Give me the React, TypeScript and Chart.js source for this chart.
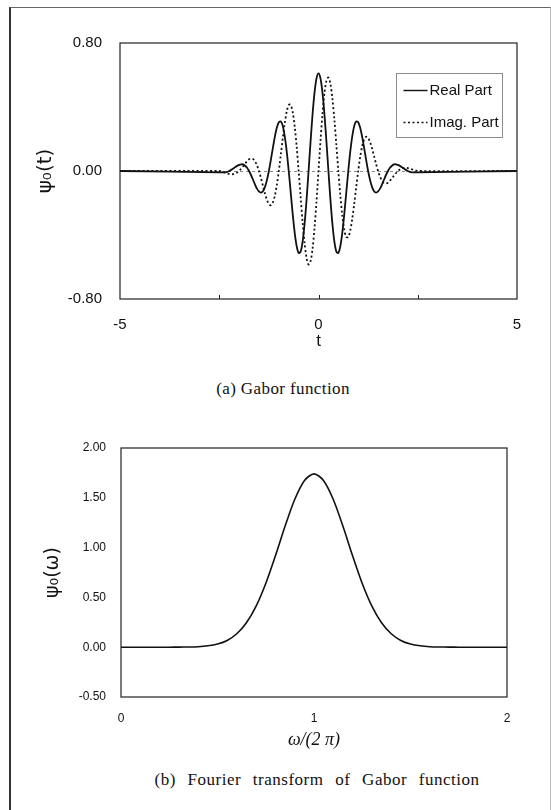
import React, { useEffect, useRef } from "react";
import { Chart, registerables } from "chart.js";

Chart.register(...registerables);

// ---------- (a) Gabor function ----------
const timeT = [
  -5,
  -2.5, -2.45, -2.4, -2.35, -2.3, -2.25, -2.2, -2.15, -2.1, -2.05,
  -2.0, -1.95, -1.9, -1.85, -1.8, -1.75, -1.7, -1.65, -1.6, -1.55,
  -1.5, -1.45, -1.4, -1.35, -1.3, -1.25, -1.2, -1.15, -1.1, -1.05,
  -1.0, -0.95, -0.9, -0.85, -0.8, -0.75, -0.7, -0.65, -0.6, -0.55,
  -0.5, -0.45, -0.4, -0.35, -0.3, -0.25, -0.2, -0.15, -0.1, -0.05,
  0,
  0.05, 0.1, 0.15, 0.2, 0.25, 0.3, 0.35, 0.4, 0.45, 0.5,
  0.55, 0.6, 0.65, 0.7, 0.75, 0.8, 0.85, 0.9, 0.95, 1.0,
  1.05, 1.1, 1.15, 1.2, 1.25, 1.3, 1.35, 1.4, 1.45, 1.5,
  1.55, 1.6, 1.65, 1.7, 1.75, 1.8, 1.85, 1.9, 1.95, 2.0,
  2.05, 2.1, 2.15, 2.2, 2.25, 2.3, 2.35, 2.4, 2.45, 2.5,
  5,
];

const realPart = [
  0,
  -0.008, -0.009, -0.009, -0.008, -0.005, 0.000, 0.007, 0.015, 0.023, 0.032,
  0.038, 0.042, 0.041, 0.033, 0.020, 0.000, -0.025, -0.054, -0.084, -0.110,
  -0.128, -0.135, -0.127, -0.101, -0.058, 0.000, 0.070, 0.143, 0.213, 0.270,
  0.305, 0.310, 0.282, 0.217, 0.121, 0.000, -0.134, -0.268, -0.385, -0.470,
  -0.513, -0.504, -0.442, -0.329, -0.177, 0.000, 0.183, 0.353, 0.490, 0.579,
  0.610,
  0.579, 0.490, 0.353, 0.183, 0.000, -0.177, -0.329, -0.442, -0.504, -0.513,
  -0.470, -0.385, -0.268, -0.134, 0.000, 0.121, 0.217, 0.282, 0.310, 0.305,
  0.270, 0.213, 0.143, 0.070, 0.000, -0.058, -0.101, -0.127, -0.135, -0.128,
  -0.110, -0.084, -0.054, -0.025, 0.000, 0.020, 0.033, 0.041, 0.042, 0.038,
  0.032, 0.023, 0.015, 0.007, 0.000, -0.005, -0.008, -0.009, -0.009, -0.008,
  0,
];

const imagPart = [
  0,
  0.000, -0.003, -0.007, -0.011, -0.015, -0.018, -0.020, -0.020, -0.017, -0.010,
  0.000, 0.014, 0.029, 0.046, 0.061, 0.073, 0.078, 0.075, 0.061, 0.036,
  0.000, -0.044, -0.092, -0.140, -0.180, -0.207, -0.214, -0.197, -0.155, -0.088,
  0.000, 0.101, 0.205, 0.299, 0.372, 0.413, 0.413, 0.368, 0.279, 0.153,
  0.000, -0.164, -0.321, -0.453, -0.545, -0.584, -0.564, -0.486, -0.356, -0.188,
  0.000,
  0.188, 0.356, 0.486, 0.564, 0.584, 0.545, 0.453, 0.321, 0.164, 0.000,
  -0.153, -0.279, -0.368, -0.413, -0.413, -0.372, -0.299, -0.205, -0.101, 0.000,
  0.088, 0.155, 0.197, 0.214, 0.207, 0.180, 0.140, 0.092, 0.044, 0.000,
  -0.036, -0.061, -0.075, -0.078, -0.073, -0.061, -0.046, -0.029, -0.014, 0.000,
  0.010, 0.017, 0.020, 0.020, 0.018, 0.015, 0.011, 0.007, 0.003, 0.000,
  0,
];

const timeTickLabels = [-5, 0, 5];
const timeInnerTicks = [-2.5, 0, 2.5];
const gaborYTicks = [-0.8, 0, 0.8];

// ---------- (b) Fourier transform ----------
const freqF = [
  0, 0.05, 0.1, 0.15, 0.2, 0.25, 0.3, 0.35, 0.4, 0.45,
  0.5, 0.55, 0.6, 0.65, 0.7, 0.75, 0.8, 0.85, 0.9, 0.95,
  1.0,
  1.05, 1.1, 1.15, 1.2, 1.25, 1.3, 1.35, 1.4, 1.45, 1.5,
  1.55, 1.6, 1.65, 1.7, 1.75, 1.8, 1.85, 1.9, 1.95, 2.0,
];

const spectrum = [
  0, 0, 0, 0, 0, 0.000, 0.001, 0.002, 0.005, 0.014,
  0.032, 0.068, 0.135, 0.245, 0.412, 0.640, 0.918, 1.214, 1.483, 1.672,
  1.740,
  1.672, 1.483, 1.214, 0.918, 0.640, 0.412, 0.245, 0.135, 0.068, 0.032,
  0.014, 0.005, 0.002, 0.001, 0.000, 0, 0, 0, 0, 0,
];

const freqTickLabels = [0, 1, 2];
const spectrumYTicks = [-0.5, 0, 0.5, 1.0, 1.5, 2.0];

const SANS = "'Liberation Sans', Arial, 'DejaVu Sans', sans-serif";
const SERIF = "'Liberation Serif', 'Times New Roman', serif";

const framePlugin = {
  id: "frame",
  beforeDatasetsDraw(chart: any, _args: any, opts: any) {
    const { ctx, chartArea: a, scales } = chart;
    if (opts.zeroLine) {
      const y = Math.round(scales.y.getPixelForValue(0)) + 0.5;
      ctx.save();
      ctx.strokeStyle = "#8a8a8a";
      ctx.lineWidth = 1;
      ctx.setLineDash([3, 3]);
      ctx.beginPath();
      ctx.moveTo(a.left, y);
      ctx.lineTo(a.right, y);
      ctx.stroke();
      ctx.restore();
    }
  },
  afterDatasetsDraw(chart: any, _args: any, opts: any) {
    const { ctx, chartArea: a, scales } = chart;
    ctx.save();
    ctx.strokeStyle = "#222";
    ctx.lineWidth = 1.2;
    ctx.setLineDash([]);
    ctx.strokeRect(a.left, a.top, a.right - a.left, a.bottom - a.top);
    if (opts.innerTicks) {
      ctx.lineWidth = 1;
      for (const v of opts.innerTicks) {
        const x = Math.round(scales.x.getPixelForValue(v)) + 0.5;
        ctx.beginPath();
        ctx.moveTo(x, a.bottom);
        ctx.lineTo(x, a.bottom - 4);
        ctx.stroke();
      }
    }
    const lg = opts.legend;
    if (lg) {
      const x0 = Math.round(a.left + lg.dx) + 0.5;
      const y0 = Math.round(a.top + lg.dy) + 0.5;
      ctx.fillStyle = "#fff";
      ctx.fillRect(x0, y0, lg.w, lg.h);
      ctx.strokeStyle = "#8c8c8c";
      ctx.lineWidth = 1;
      ctx.strokeRect(x0, y0, lg.w, lg.h);
      chart.data.datasets.forEach((ds: any, i: number) => {
        const y = y0 + lg.rows[i];
        ctx.strokeStyle = ds.borderColor;
        ctx.lineWidth = 1.4;
        ctx.setLineDash(ds.borderDash || []);
        ctx.beginPath();
        ctx.moveTo(x0 + lg.sample[0], y);
        ctx.lineTo(x0 + lg.sample[1], y);
        ctx.stroke();
        ctx.setLineDash([]);
        ctx.fillStyle = "#111";
        ctx.font = `15px ${SANS}`;
        ctx.textBaseline = "middle";
        ctx.textAlign = "left";
        ctx.fillText(ds.label, x0 + lg.textX, y);
      });
    }
    ctx.restore();
  },
};

function setTicks(list: number[]) {
  return (scale: any) => {
    scale.ticks = list.map((v) => ({ value: v }));
  };
}

function GaborChart() {
  const ref = useRef<HTMLCanvasElement>(null);
  useEffect(() => {
    const chart = new Chart(ref.current as HTMLCanvasElement, {
      type: "line",
      data: {
        datasets: [
          {
            label: "Real Part",
            data: timeT.map((t, i) => ({ x: t, y: realPart[i] })),
            borderColor: "#111",
            borderWidth: 1.8,
            pointRadius: 0,
            tension: 0.3,
            fill: false,
          },
          {
            label: "Imag. Part",
            data: timeT.map((t, i) => ({ x: t, y: imagPart[i] })),
            borderColor: "#111",
            borderWidth: 1.8,
            borderDash: [2, 2.5],
            pointRadius: 0,
            tension: 0.3,
            fill: false,
          },
        ],
      },
      options: {
        responsive: false,
        animation: false,
        devicePixelRatio: 1,
        layout: { padding: { top: 43, right: 34, left: 0, bottom: 0 } },
        plugins: {
          legend: { display: false },
          tooltip: { enabled: false },
          frame: {
            zeroLine: true,
            innerTicks: timeInnerTicks,
            legend: { dx: 276, dy: 30, w: 106, h: 64, rows: [17, 49], sample: [7, 31], textX: 33 },
          },
        } as any,
        scales: {
          x: {
            type: "linear",
            min: -5,
            max: 5,
            afterBuildTicks: setTicks(timeTickLabels),
            afterFit: (s: any) => { s.height = 61; },
            grid: { display: false, drawTicks: false },
            border: { display: false },
            ticks: { padding: 17, color: "#111", font: { size: 15, family: SANS }, callback: (v: any) => String(v) },
            title: { display: true, text: "t", color: "#111", font: { size: 17, family: SANS }, padding: { top: 0, bottom: 8 } },
          },
          y: {
            type: "linear",
            min: -0.8,
            max: 0.8,
            afterBuildTicks: setTicks(gaborYTicks),
            afterFit: (s: any) => { s.width = 120; },
            grid: { display: false, drawTicks: false },
            border: { display: false },
            ticks: { padding: 18, color: "#111", font: { size: 15, family: SANS }, callback: (v: any) => Number(v).toFixed(2) },
            title: { display: true, text: "ψ₀(t)", color: "#111", font: { size: 20, family: "'DejaVu Sans', sans-serif" }, padding: { top: 34, bottom: 0 } },
          },
        },
      },
      plugins: [framePlugin as any],
    });
    return () => chart.destroy();
  }, []);
  return (
    <canvas
      ref={ref}
      width={551}
      height={360}
      style={{ position: "absolute", left: 0, top: 0, width: 551, height: 360 }}
    />
  );
}

function SpectrumChart() {
  const ref = useRef<HTMLCanvasElement>(null);
  useEffect(() => {
    const chart = new Chart(ref.current as HTMLCanvasElement, {
      type: "line",
      data: {
        datasets: [
          {
            label: "Fourier transform",
            data: freqF.map((f, i) => ({ x: f, y: spectrum[i] })),
            borderColor: "#111",
            borderWidth: 1.6,
            pointRadius: 0,
            tension: 0.3,
            fill: false,
          },
        ],
      },
      options: {
        responsive: false,
        animation: false,
        devicePixelRatio: 1,
        layout: { padding: { top: 48, right: 44, left: 0, bottom: 0 } },
        plugins: {
          legend: { display: false },
          tooltip: { enabled: false },
          frame: {},
        } as any,
        scales: {
          x: {
            type: "linear",
            min: 0,
            max: 2,
            afterBuildTicks: setTicks(freqTickLabels),
            afterFit: (s: any) => { s.height = 63; },
            grid: { display: false, drawTicks: false },
            border: { display: false },
            ticks: { padding: 14, color: "#111", font: { size: 12, family: SANS }, callback: (v: any) => String(v) },
            title: { display: true, text: "ω/(2 π)", color: "#111", font: { size: 18, family: SERIF, style: "italic" }, padding: { top: 0, bottom: 9 } },
          },
          y: {
            type: "linear",
            min: -0.5,
            max: 2.0,
            afterBuildTicks: setTicks(spectrumYTicks),
            afterFit: (s: any) => { s.width = 121; },
            grid: { display: false, drawTicks: false },
            border: { display: false },
            ticks: { padding: 15, color: "#111", font: { size: 12, family: SANS }, callback: (v: any) => Number(v).toFixed(2) },
            title: { display: true, text: "ψ₀(ω)", color: "#111", font: { size: 19, family: "'DejaVu Sans', sans-serif" }, padding: { top: 42, bottom: 0 } },
          },
        },
      },
      plugins: [framePlugin as any],
    });
    return () => chart.destroy();
  }, []);
  return (
    <canvas
      ref={ref}
      width={551}
      height={360}
      style={{ position: "absolute", left: 0, top: 400, width: 551, height: 360 }}
    />
  );
}

export default function App() {
  return (
    <div style={{ position: "absolute", left: 0, top: 0, width: 551, height: 810, overflow: "hidden", background: "#fff" }}>
      <div
        style={{
          position: "absolute",
          left: 9,
          top: 7,
          width: 542,
          height: 830,
          boxSizing: "border-box",
          borderLeft: "2px solid #333",
          borderTop: "1px solid #666",
          borderRight: "1px solid #bbb",
        }}
      />
      <GaborChart />
      <SpectrumChart />
      <div
        style={{
          position: "absolute",
          left: 133,
          width: 300,
          top: 378,
          lineHeight: "22px",
          textAlign: "center",
          fontFamily: SERIF,
          fontSize: 17,
          letterSpacing: "0.4px",
          color: "#111",
        }}
      >
        (a) Gabor function
      </div>
      <div
        style={{
          position: "absolute",
          left: 117,
          width: 400,
          top: 769,
          lineHeight: "22px",
          textAlign: "center",
          fontFamily: SERIF,
          fontSize: 17,
          letterSpacing: "0.5px",
          wordSpacing: "7px",
          color: "#111",
        }}
      >
        (b) Fourier transform of Gabor function
      </div>
    </div>
  );
}
